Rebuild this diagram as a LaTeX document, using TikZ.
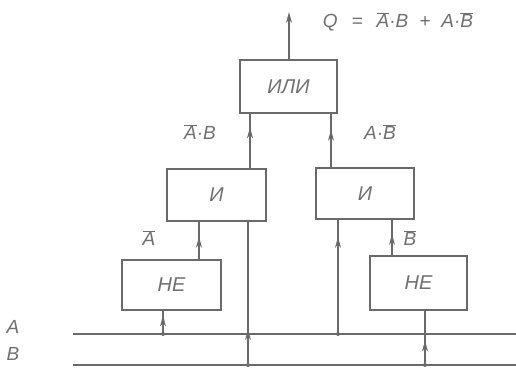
\documentclass[tikz,border=0pt]{standalone}
\usepackage{fontspec}
\setmainfont{Liberation Sans}
\usetikzlibrary{arrows.meta,decorations.markings}
\definecolor{ink}{HTML}{6A6A6A}
\definecolor{txt}{HTML}{707070}
\newcommand\ovl[1]{\ensuremath{\overline{\hbox{#1}}}}
\begin{document}
\begin{tikzpicture}[x=1pt,y=-1pt,
  gate/.style={draw=ink,line width=1.5pt,fill=white,font=\itshape\fontsize{20}{20}\selectfont,text=txt},
  wire/.style={draw=ink,line width=1.2pt},
  midarrow/.style={postaction={decorate},decoration={markings,mark=at position #1 with {\arrow{Stealth[length=11pt,width=6pt]}}}},
  lab/.style={font=\itshape\fontsize{19}{19}\selectfont,text=txt},
  jdot/.style={circle,fill=ink,inner sep=0pt,minimum size=4pt}]
\useasboundingbox (0,0) rectangle (516,374);
% gates
\node[gate,minimum width=97pt,minimum height=53pt] (ili) at (288.5,86.5) {ИЛИ};
\node[gate,minimum width=99pt,minimum height=52pt] (andL) at (216.5,195) {И};
\node[gate,minimum width=98pt,minimum height=51pt] (andR) at (365,193.5) {И};
\node[gate,minimum width=99pt,minimum height=50pt] (notL) at (171.5,285) {НЕ};
\node[gate,minimum width=97pt,minimum height=54pt] (notR) at (418.5,283) {НЕ};
% buses
\coordinate (Aw) at (73,334); \coordinate (Ae) at (516,334);
\coordinate (Bw) at (73,365); \coordinate (Be) at (516,365);
\draw[wire] (Aw) -- (Ae);
\draw[wire] (Bw) -- (Be);
\node[lab] (labA) at (13,327) {A};
\node[lab] (labB) at (13,354) {B};
% taps
\coordinate (a1) at (163,334);
\coordinate (b1) at (248,365);
\coordinate (a2) at (338,334);
\coordinate (b2) at (425,365);
\coordinate (n1) at (199,0);
\coordinate (n2) at (392,0);
\coordinate (o1) at (250,0);
\coordinate (o2) at (331,0);
\coordinate (out) at (289,12);
\draw[wire,midarrow=0.8] (a1) -- (a1 |- notL.south);
\draw[wire,midarrow=0.6] (notL.north -| n1) -- (andL.south -| n1);
\draw[wire,midarrow=0.25] (b1) -- (b1 |- andL.south);
\draw[wire,midarrow=0.85] (a2) -- (a2 |- andR.south);
\draw[wire,midarrow=0.45] (b2) -- (b2 |- notR.south);
\draw[wire,midarrow=0.6] (notR.north -| n2) -- (andR.south -| n2);
\draw[wire,midarrow=0.75] (andL.north -| o1) -- (ili.south -| o1);
\draw[wire,midarrow=0.7] (andR.north -| o2) -- (ili.south -| o2);
\draw[wire,-{Stealth[length=11pt,width=6pt]}] (ili.north -| out) -- (out);
\node[jdot] (d1) at (a1) {};
\node[jdot] (d2) at (b1) {};
\node[jdot] (d3) at (a2) {};
\node[jdot] (d4) at (b2) {};
% labels
\node[lab] (fQ) at (398,22) {Q\hspace{14pt}=\hspace{14pt}\ovl{A}·B\hspace{11pt}+\hspace{11pt}A·\ovl{B}};
\node[lab] (lAB) at (200,132) {\ovl{A}·B};
\node[lab] (lABn) at (380,132) {A·\ovl{B}};
\node[lab] (lAn) at (149,238) {\ovl{A}};
\node[lab] (lBn) at (410,238) {\ovl{B}};
\end{tikzpicture}
\end{document}
